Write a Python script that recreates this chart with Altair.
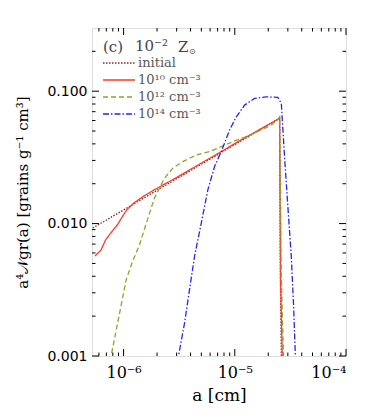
import math
import altair as alt
import pandas as pd

# ---------------- data ----------------
series_names = ["initial", "1e10", "1e12", "1e14"]
legend_labels = ["initial", "10¹⁰ cm⁻³", "10¹² cm⁻³", "10¹⁴ cm⁻³"]
series_colors = ["#8b2525", "#ff3a2a", "#8ea32a", "#2626ee"]
series_dash = [[1.5, 1.5], [1, 0], [5, 3], [6, 2, 1.5, 2]]

init_a = [5.0e-7, 2.53e-5, 2.57e-5, 2.63e-5]
init_v = [0.00901, 0.0625, 0.004, 0.0008]

red_a = [5.52e-7, 6.25e-7, 6.93e-7, 7.69e-7, 8.83e-7, 9.79e-7, 1.071e-6, 1.248e-6,
         1.535e-6, 1.888e-6, 3.0e-6, 6.0e-6, 1.2e-5, 2.53e-5, 2.58e-5, 2.69e-5]
red_v = [0.00568, 0.0063, 0.00759, 0.00851, 0.00983, 0.01135, 0.01274, 0.01439,
         0.01623, 0.0180, 0.0223, 0.0313, 0.0439, 0.0624, 0.0038, 0.0008]

grn_a = [7.56e-7, 7.75e-7, 9.2e-7, 1.057e-6, 1.205e-6, 1.393e-6, 1.714e-6, 1.90e-6,
         2.107e-6, 2.337e-6, 2.775e-6, 3.414e-6, 4.507e-6, 5.935e-6, 7.56e-6, 9.61e-6,
         1.269e-5, 1.671e-5, 2.13e-5, 2.44e-5, 2.53e-5, 2.62e-5, 2.76e-5]
grn_v = [0.000917, 0.001017, 0.0021, 0.00379, 0.00518, 0.00695, 0.01204, 0.0157,
         0.01855, 0.02206, 0.02623, 0.0294, 0.03303, 0.03497, 0.03813, 0.04157,
         0.04532, 0.05029, 0.05551, 0.06124, 0.0641, 0.004, 0.0008]

blu_a = [3.08e-6, 3.14e-6, 3.54e-6, 3.92e-6, 4.35e-6, 4.996e-6, 5.73e-6, 6.58e-6,
         7.56e-6, 8.98e-6, 1.032e-5, 1.225e-5, 1.507e-5, 1.92e-5, 2.44e-5, 2.62e-5,
         2.80e-5, 3.00e-5, 3.22e-5, 3.38e-5, 3.50e-5, 3.53e-5]
blu_v = [0.0009, 0.001035, 0.00179, 0.00319, 0.00568, 0.0101, 0.01803, 0.027,
         0.035, 0.0509, 0.0641, 0.0785, 0.0881, 0.0906, 0.0897, 0.0808,
         0.0321, 0.0135, 0.00568, 0.00239, 0.00104, 0.0009]

x_domain = [5.2e-7, 1e-4]
y_domain = [0.001, 0.3]
x_major = [1e-6, 1e-5, 1e-4]
x_major_labels = ["10⁻⁶", "10⁻⁵", "10⁻⁴"]
x_minor = [m * 10.0 ** e for e in (-7, -6, -5) for m in range(2, 10)
           if x_domain[0] <= m * 10.0 ** e <= x_domain[1]]
y_major = [0.001, 0.01, 0.1]
y_minor = [m * 10.0 ** e for e in (-3, -2, -1) for m in range(2, 10) if m * 10.0 ** e < 0.29]

panel_parts = ["(c)", "10⁻²", "Z"]
panel_sub = "⊙"
x_title = "a [cm]"
y_title = "a⁴𝒩gr(a) [grains g⁻¹ cm³]"

# ---------------- build tables ----------------
rows = []
for name, xs, ys in [("initial", init_a, init_v), ("1e10", red_a, red_v),
                     ("1e12", grn_a, grn_v), ("1e14", blu_a, blu_v)]:
    for i, (a, v) in enumerate(zip(xs, ys)):
        rows.append({"series": name, "a": a, "v": v, "i": i})
df = pd.DataFrame(rows)

leg_df = pd.DataFrame({"series": series_names, "label": legend_labels,
                       "row": list(range(len(series_names)))})

SERIF = "DejaVu Serif"
W, H = 254, 328
xscale = alt.Scale(type="log", domain=x_domain, nice=False)
yscale = alt.Scale(type="log", domain=y_domain, nice=False)
cscale = alt.Scale(domain=series_names, range=series_colors)
dscale = alt.Scale(domain=series_names, range=series_dash)

label_expr = " : ".join(
    f"abs(log(datum.value)/log(10) - ({int(round(math.log10(v)))})) < 0.01 ? '{lab}'"
    for v, lab in zip(x_major, x_major_labels)) + " : ''"

xaxis = alt.Axis(values=x_major, labelExpr=label_expr, ticks=False, domain=False,
                 grid=False, labelFont=SERIF, labelFontSize=16,
                 labelColor="black", labelPadding=8, title=x_title,
                 titleFont=SERIF, titleFontSize=17, titleColor="black",
                 titleFontWeight="normal", titlePadding=7)

lines = alt.Chart(df).mark_line(clip=True, strokeWidth=1.3, strokeCap="butt").encode(
    x=alt.X("a:Q", scale=xscale, axis=xaxis),
    y=alt.Y("v:Q", scale=yscale,
            axis=alt.Axis(values=y_major, format=".3f", ticks=False, domain=False, grid=False,
                          labelFont="DejaVu Sans", labelFontSize=14, labelColor="black",
                          labelPadding=5, title=y_title, titleFont=SERIF, titleColor="black",
                          titleFontSize=15, titleFontWeight="normal",
                          titleAngle=270, titleBaseline="middle", titleAlign="center",
                          titleX=-70, titleY=H / 2)),
    color=alt.Color("series:N", scale=cscale, legend=None),
    strokeDash=alt.StrokeDash("series:N", scale=dscale, legend=None),
    order="i:Q",
)


def xticks(vals, length, top):
    d = pd.DataFrame({"a": vals})
    y0, y1 = (0, length) if top else (H, H - length)
    return alt.Chart(d).mark_rule(color="black", strokeWidth=1).encode(
        x=alt.X("a:Q", scale=xscale, axis=xaxis), y=alt.value(y0), y2=alt.value(y1))


def yticks(vals, length, right):
    d = pd.DataFrame({"t": vals})
    x0, x1 = (W, W - length) if right else (0, length)
    return alt.Chart(d).mark_rule(color="black", strokeWidth=1).encode(
        y=alt.Y("t:Q", scale=yscale, axis=None), x=alt.value(x0), x2=alt.value(x1))


tick_layers = [xticks(x_major, 7, False), xticks(x_major, 7, True),
               xticks(x_minor, 3.5, False), xticks(x_minor, 3.5, True),
               yticks(y_major, 7, False), yticks(y_major, 7, True),
               yticks(y_minor, 3.5, False), yticks(y_minor, 3.5, True)]

rowscale = alt.Scale(domain=[0, 3], range=[35, 86])
leg_lines = alt.Chart(leg_df).mark_rule(strokeWidth=1.3, strokeCap="butt").encode(
    x=alt.value(11), x2=alt.value(43),
    y=alt.Y("row:Q", scale=rowscale, axis=None),
    color=alt.Color("series:N", scale=cscale, legend=None),
    strokeDash=alt.StrokeDash("series:N", scale=dscale, legend=None),
)
leg_text = alt.Chart(leg_df).mark_text(align="left", baseline="middle", font=SERIF,
                                       fontSize=13, color="#5a5a5a").encode(
    x=alt.value(46), y=alt.Y("row:Q", scale=rowscale, axis=None), text="label:N")


def panel_text(t, x, y, size, font=SERIF):
    return alt.Chart(pd.DataFrame({"t": [t]})).mark_text(
        align="left", baseline="middle", font=font, fontSize=size, color="#444").encode(
        x=alt.value(x), y=alt.value(y), text="t:N")


panel = [panel_text(panel_parts[0], 11, 19, 15),
         panel_text(panel_parts[1], 43, 18, 15),
         panel_text(panel_parts[2], 86, 19, 15),
         panel_text(panel_sub, 97, 24, 8, "DejaVu Sans")]

chart = alt.layer(lines, *tick_layers, leg_lines, leg_text, *panel).resolve_scale(
    y="independent").properties(
    width=W, height=H, autosize=alt.AutoSizeParams(type="none"),
    padding={"left": 84, "top": 20, "right": 20, "bottom": 50},
).configure_view(stroke="black", strokeWidth=1).configure(background="white")

chart.save("out.html", embed_options={"renderer": "svg", "actions": False})
